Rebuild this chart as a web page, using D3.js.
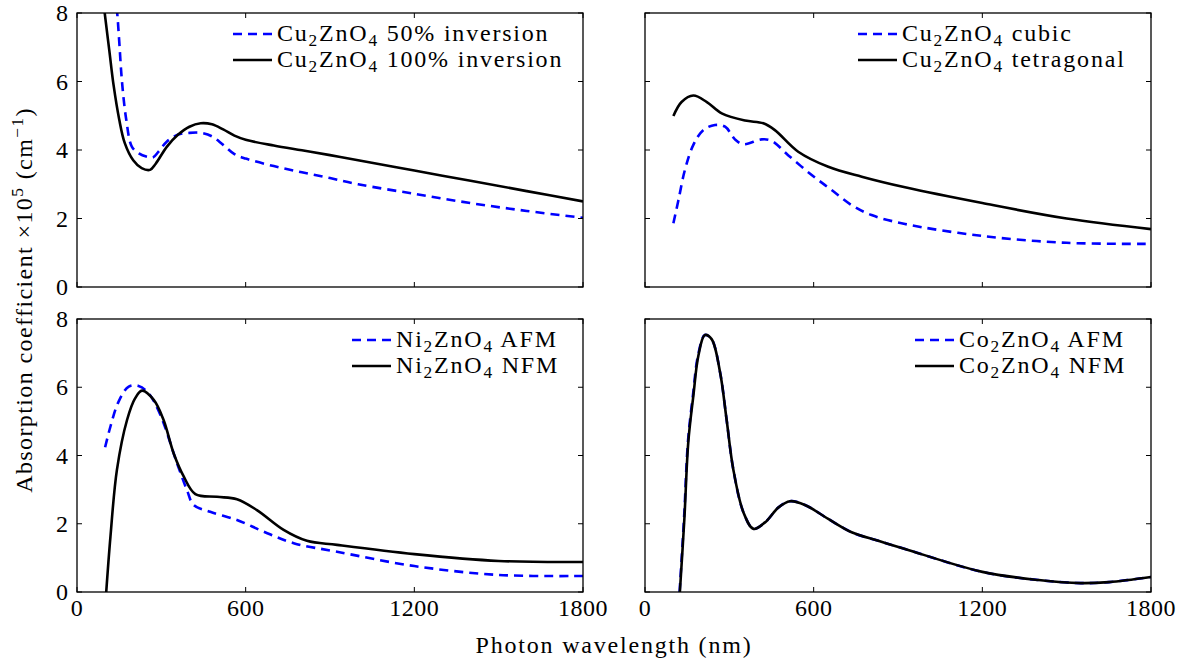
<!DOCTYPE html>
<html>
<head>
<meta charset="utf-8">
<script src="https://cdn.jsdelivr.net/npm/d3@7"></script>
<style>
  body { margin: 0; background: #fff; }
  svg text { font-family: "Liberation Serif", "DejaVu Serif", serif; fill: #000; }
</style>
</head>
<body>
<script>
// wavelength (nm), absorption (x1e5 cm^-1)
var cuInv50 = [[135,8.6],[143,8.0],[150,7.2],[160,6.0],[175,4.9],[195,4.1],[220,3.9],[250,3.8],[270,3.78],[290,3.95],[320,4.25],[360,4.45],[400,4.5],[440,4.5],[480,4.4],[520,4.15],[560,3.88],[600,3.75],[700,3.53],[800,3.35],[900,3.18],[1000,3.0],[1200,2.72],[1400,2.45],[1600,2.22],[1800,2.02]];
var cuInv100 = [[92,8.5],[100,7.9],[115,6.9],[130,5.9],[150,4.9],[170,4.2],[200,3.7],[230,3.47],[260,3.42],[280,3.6],[320,4.1],[360,4.45],[400,4.68],[440,4.78],[480,4.75],[520,4.6],[560,4.42],[600,4.3],[700,4.13],[800,3.99],[900,3.85],[1000,3.7],[1200,3.4],[1400,3.1],[1600,2.8],[1800,2.5]];
var cuCubic = [[101,1.86],[119,2.54],[142,3.42],[172,4.15],[207,4.58],[249,4.73],[285,4.68],[320,4.31],[350,4.17],[415,4.31],[450,4.27],[509,3.85],[593,3.27],[664,2.83],[735,2.39],[806,2.10],[925,1.84],[1200,1.49],[1500,1.29],[1800,1.26]];
var cuTetra = [[101,4.99],[130,5.4],[172,5.59],[220,5.4],[273,5.07],[356,4.86],[421,4.78],[462,4.58],[545,3.95],[652,3.51],[771,3.22],[925,2.91],[1200,2.45],[1500,2.0],[1800,1.69]];
var niAFM = [[100,4.24],[119,4.85],[148,5.58],[184,6.02],[219,6.04],[255,5.82],[296,5.2],[356,3.77],[391,2.99],[415,2.55],[474,2.35],[569,2.11],[664,1.77],[771,1.43],[925,1.18],[1200,0.76],[1500,0.5],[1800,0.47]];
var niNFM = [[104,0.0],[119,1.62],[142,3.58],[178,5.04],[207,5.68],[231,5.9],[273,5.63],[308,5.04],[344,4.06],[380,3.38],[421,2.87],[498,2.79],[569,2.72],[640,2.4],[735,1.82],[818,1.5],[925,1.38],[1200,1.11],[1500,0.91],[1800,0.88]];
var coAFM = [[123,0.0],[139,2.18],[153,4.43],[171,5.8],[189,6.95],[213,7.53],[237,7.41],[267,6.44],[290,5.07],[314,3.6],[350,2.34],[386,1.85],[427,2.04],[475,2.48],[516,2.66],[569,2.55],[652,2.14],[735,1.75],[830,1.5],[925,1.26],[1200,0.59],[1400,0.35],[1550,0.26],[1650,0.29],[1800,0.44]];
var coNFM = [[124,0.0],[140,2.14],[154,4.39],[172,5.75],[190,6.93],[213,7.53],[237,7.41],[267,6.44],[290,5.07],[314,3.6],[350,2.34],[386,1.85],[427,2.04],[475,2.48],[516,2.66],[569,2.55],[652,2.14],[735,1.75],[830,1.5],[925,1.26],[1200,0.59],[1400,0.35],[1550,0.26],[1650,0.29],[1800,0.44]];

var xTicks = [0, 600, 1200, 1800];
var yTicks = [0, 2, 4, 6, 8];

var panels = [
  {x0: 77,  x1: 583,  y0: 13,  y1: 287, dash: cuInv50, solid: cuInv100, names: [["Cu","2","ZnO","4"," 50% inversion"],["Cu","2","ZnO","4"," 100% inversion"]], lx: 233, xl: false, yl: true},
  {x0: 645, x1: 1151, y0: 13,  y1: 287, dash: cuCubic, solid: cuTetra, names: [["Cu","2","ZnO","4"," cubic"],["Cu","2","ZnO","4"," tetragonal"]], lx: 858, xl: false, yl: false},
  {x0: 77,  x1: 583,  y0: 319, y1: 592, dash: niAFM, solid: niNFM, names: [["Ni","2","ZnO","4"," AFM"],["Ni","2","ZnO","4"," NFM"]], lx: 352, xl: true, yl: true},
  {x0: 645, x1: 1151, y0: 319, y1: 592, dash: coAFM, solid: coNFM, names: [["Co","2","ZnO","4"," AFM"],["Co","2","ZnO","4"," NFM"]], lx: 915, xl: true, yl: false}
];

var svg = d3.select("body")
    .append("svg")
    .attr("width", 1191)
    .attr("height", 667);

var fs = 24;
var ls = 1.8;
var lw = 2.6;

function addLabel(sel, parts){
  // parts: [elem, sub, text, sub, rest]
  parts.forEach(function(p, i){
    var t = sel.append("tspan").text(p);
    if (i == 1 || i == 3) {
      t.attr("font-size", fs * 0.72).attr("dy", 5);
    } else if (i == 2 || i == 4) {
      t.attr("dy", -5);
    }
  });
}

panels.forEach(function(p, k){
  var x = d3.scaleLinear().domain([0, 1800]).range([p.x0, p.x1]);
  var y = d3.scaleLinear().domain([0, 8]).range([p.y1, p.y0]);
  var g = svg.append("g");

  g.append("clipPath").attr("id", "clip" + k)
    .append("rect")
    .attr("x", p.x0).attr("y", p.y0)
    .attr("width", p.x1 - p.x0).attr("height", p.y1 - p.y0);

  var line = d3.line()
    .x(function(d){ return x(d[0]); })
    .y(function(d){ return y(d[1]); })
    .curve(d3.curveCatmullRom.alpha(0.5));

  g.append("path").datum(p.dash)
    .attr("clip-path", "url(#clip" + k + ")")
    .attr("d", line).attr("fill", "none")
    .attr("stroke", "#0000ff").attr("stroke-width", lw)
    .attr("stroke-dasharray", "9,6");

  g.append("path").datum(p.solid)
    .attr("clip-path", "url(#clip" + k + ")")
    .attr("d", line).attr("fill", "none")
    .attr("stroke", "#000").attr("stroke-width", lw);

  // box
  g.append("rect")
    .attr("x", p.x0).attr("y", p.y0)
    .attr("width", p.x1 - p.x0).attr("height", p.y1 - p.y0)
    .attr("fill", "none").attr("stroke", "#000").attr("stroke-width", 1.3);

  // ticks, inward on all sides
  var tl = 5;
  xTicks.forEach(function(t){
    g.append("line").attr("x1", x(t)).attr("x2", x(t))
      .attr("y1", p.y1).attr("y2", p.y1 - tl)
      .attr("stroke", "#000").attr("stroke-width", 1);
    g.append("line").attr("x1", x(t)).attr("x2", x(t))
      .attr("y1", p.y0).attr("y2", p.y0 + tl)
      .attr("stroke", "#000").attr("stroke-width", 1);
    if (p.xl) {
      g.append("text").attr("x", x(t)).attr("y", p.y1 + 24)
        .attr("text-anchor", "middle").attr("font-size", 24)
        .attr("letter-spacing", 0.5).text(t);
    }
  });
  yTicks.forEach(function(t){
    g.append("line").attr("x1", p.x0).attr("x2", p.x0 + tl)
      .attr("y1", y(t)).attr("y2", y(t))
      .attr("stroke", "#000").attr("stroke-width", 1);
    g.append("line").attr("x1", p.x1).attr("x2", p.x1 - tl)
      .attr("y1", y(t)).attr("y2", y(t))
      .attr("stroke", "#000").attr("stroke-width", 1);
    if (p.yl) {
      g.append("text").attr("x", p.x0 - 9).attr("y", y(t) + 8)
        .attr("text-anchor", "end").attr("font-size", 24).text(t);
    }
  });

  // legend
  var rows = [p.y0 + 21, p.y0 + 47];
  [["#0000ff", "9,6"], ["#000", null]].forEach(function(s, i){
    var ln = g.append("line")
      .attr("x1", p.lx).attr("x2", p.lx + 39)
      .attr("y1", rows[i]).attr("y2", rows[i])
      .attr("stroke", s[0]).attr("stroke-width", lw);
    if (s[1]) ln.attr("stroke-dasharray", s[1]);
    var tx = g.append("text")
      .attr("x", p.lx + 44).attr("y", rows[i] + 7)
      .attr("font-size", fs).attr("letter-spacing", ls);
    addLabel(tx, p.names[i]);
  });
});

// axis titles
svg.append("text")
  .attr("x", 614).attr("y", 653)
  .attr("text-anchor", "middle").attr("font-size", fs)
  .attr("letter-spacing", ls)
  .text("Photon wavelength (nm)");

var yt = svg.append("text")
  .attr("transform", "translate(32,300) rotate(-90)")
  .attr("text-anchor", "middle").attr("font-size", fs)
  .attr("letter-spacing", 1.4);
yt.append("tspan").text("Absorption coefficient \u00d710");
yt.append("tspan").attr("font-size", fs * 0.72).attr("dy", -9).text("5");
yt.append("tspan").attr("dy", 9).text(" (cm");
yt.append("tspan").attr("font-size", fs * 0.72).attr("dy", -9).text("\u22121");
yt.append("tspan").attr("dy", 9).text(")");
</script>
</body>
</html>
